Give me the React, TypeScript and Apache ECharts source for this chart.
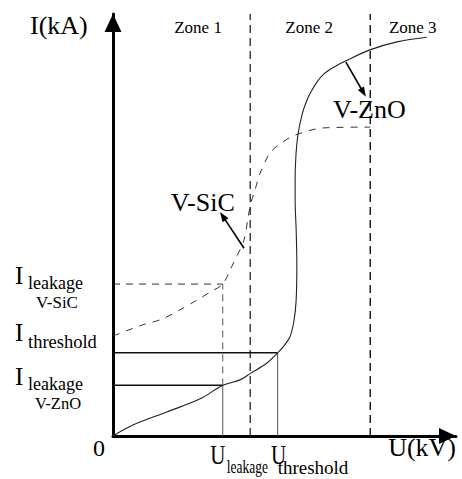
import { useEffect, useRef } from "react";
import * as echarts from "echarts";

// Axis extents (schematic units)
const uMax = 10;
const iMax = 10;

// Characteristic levels
const uLeakage = 3.2;
const uThreshold = 4.8;
const zoneBounds = [4.0, 7.5];
const iLeakageZnO = 1.2;
const iThreshold = 1.97;
const iLeakageSiC = 3.6;

// V-ZnO characteristic, [U, I]
const znoCurve: number[][] = [
  [0, 0], [0.58, 0.26], [1.57, 0.57], [2.54, 0.88], [3.2, 1.2], [3.7, 1.33],
  [4.02, 1.49], [4.49, 1.73], [4.8, 1.97], [4.96, 2.11], [5.16, 2.35],
  [5.28, 2.75], [5.34, 3.22], [5.36, 4.05], [5.34, 4.88], [5.31, 5.59],
  [5.31, 6.07], [5.33, 6.6], [5.39, 7.13], [5.51, 7.61], [5.63, 7.91],
  [5.77, 8.15], [5.95, 8.39], [6.15, 8.58], [6.44, 8.74], [6.79, 8.89],
  [7.49, 9.15], [8.28, 9.34], [9.15, 9.45],
];

// V-SiC characteristic, [U, I]
const sicCurve: number[][] = [
  [0, 2.37], [0.85, 2.63], [1.43, 2.77], [1.95, 2.99], [2.45, 3.22],
  [2.83, 3.41], [3.2, 3.6], [3.41, 3.93], [3.64, 4.31], [3.82, 4.64],
  [3.94, 5.19], [4.02, 5.52], [4.14, 5.83], [4.29, 6.23], [4.58, 6.71],
  [4.9, 6.94], [5.31, 7.13], [6.12, 7.3], [7.5, 7.32],
];

// Pointer arrows [tail, head]
const sicPointer: number[][] = [[3.82, 4.45], [3.2, 5.21]];
const znoPointer: number[][] = [[6.79, 8.86], [7.3, 8.14]];

const zoneNames = ["Zone 1", "Zone 2", "Zone 3"];
const zoneLabelU = [2.48, 5.72, 8.74];

const SERIF = "Liberation Serif";
const INK = "#000";

function segment(
  name: string,
  pts: number[][],
  color: string,
  width: number,
  type: "solid" | "dashed" | number[],
) {
  return {
    name,
    type: "line",
    data: pts,
    showSymbol: false,
    symbol: "none",
    silent: true,
    z: 3,
    lineStyle: { color, width, type },
  };
}

function txt(
  text: string,
  x: number,
  y: number,
  fontSize: number,
  align: "left" | "center" | "right" = "left",
  scaleX = 1,
) {
  return {
    type: "text",
    x,
    y,
    scaleX,
    silent: true,
    z: 10,
    style: {
      text,
      fontSize,
      fontFamily: SERIF,
      fill: INK,
      align,
      verticalAlign: "middle",
    },
  };
}

export default function App() {
  const ref = useRef<HTMLDivElement>(null);

  useEffect(() => {
    if (!ref.current) return;
    const chart = echarts.init(ref.current, undefined, { renderer: "svg" });

    const axisLine = (arrow: [number, number]) => ({
      show: true,
      symbol: ["none", "triangle"],
      symbolSize: arrow,
      symbolOffset: [0, -arrow[1] / 2],
      lineStyle: { color: INK, width: 3 },
    });

    const dash = [8, 5];

    chart.setOption({
      animation: false,
      backgroundColor: "#fff",
      grid: { left: 113, right: 6, top: 14, bottom: 43 },
      xAxis: {
        type: "value",
        min: 0,
        max: uMax,
        axisLine: axisLine([16, 17]),
        axisTick: { show: false },
        axisLabel: { show: false },
        splitLine: { show: false },
      },
      yAxis: {
        type: "value",
        min: 0,
        max: iMax,
        axisLine: axisLine([17, 18]),
        axisTick: { show: false },
        axisLabel: { show: false },
        splitLine: { show: false },
      },
      series: [
        // zone boundaries
        segment("zone-a", [[zoneBounds[0], 0], [zoneBounds[0], iMax]], "#111", 1.2, dash),
        segment("zone-b", [[zoneBounds[1], 0], [zoneBounds[1], iMax]], "#111", 1.4, dash),
        // leakage / threshold guides
        segment("i-leak-zno", [[0, iLeakageZnO], [uLeakage, iLeakageZnO]], "#111", 1.5, "solid"),
        segment("u-leak", [[uLeakage, 0], [uLeakage, iLeakageZnO]], "#555", 1, "solid"),
        segment("i-thr", [[0, iThreshold], [uThreshold, iThreshold]], "#111", 1.5, "solid"),
        segment("u-thr", [[uThreshold, 0], [uThreshold, iThreshold]], "#555", 1, "solid"),
        segment("i-leak-sic", [[0, iLeakageSiC], [uLeakage, iLeakageSiC]], "#333", 1, [7, 6]),
        segment("u-leak-sic", [[uLeakage, iLeakageZnO], [uLeakage, iLeakageSiC]], "#555", 1, [7, 5]),
        {
          name: "V-SiC",
          type: "line",
          data: sicCurve,
          smooth: 0.3,
          showSymbol: false,
          symbol: "none",
          silent: true,
          z: 4,
          lineStyle: { color: "#333", width: 1, type: [7, 7] },
          markLine: {
            silent: true,
            symbol: ["none", "triangle"],
            symbolSize: [7, 10],
            label: { show: false },
            lineStyle: { color: INK, width: 1.6, type: "solid" },
            data: [[{ coord: sicPointer[0] }, { coord: sicPointer[1] }]],
          },
        },
        {
          name: "V-ZnO",
          type: "line",
          data: znoCurve,
          smooth: 0.35,
          showSymbol: false,
          symbol: "none",
          silent: true,
          z: 4,
          lineStyle: { color: "#222", width: 1.1 },
          markLine: {
            silent: true,
            symbol: ["none", "triangle"],
            symbolSize: [7, 10],
            label: { show: false },
            lineStyle: { color: INK, width: 1.6, type: "solid" },
            data: [[{ coord: znoPointer[0] }, { coord: znoPointer[1] }]],
          },
        },
      ],
    });

    const px = (u: number, i: number) =>
      chart.convertToPixel({ gridIndex: 0 }, [u, i]) as number[];
    const yOf = (i: number) => px(0, i)[1];
    const xOf = (u: number) => px(u, 0)[0];
    const [x0, y0] = px(0, 0);

    const ySic = yOf(iLeakageSiC);
    const yThr = yOf(iThreshold);
    const yZno = yOf(iLeakageZnO);
    const xLeak = xOf(uLeakage);
    const xThr = xOf(uThreshold);
    const sicHead = px(sicPointer[1][0], sicPointer[1][1]);
    const znoHead = px(znoPointer[1][0], znoPointer[1][1]);
    const yTop = yOf(iMax);

    const graphic = [
      txt("I(kA)", 30, yTop + 11, 26),
      txt("U(kV)", xOf(uMax), y0 + 11, 26, "right"),
      txt("0", x0 - 14, y0 + 12, 24, "center"),
      ...zoneNames.map((z, k) => txt(z, xOf(zoneLabelU[k]), yTop + 13, 17, "center")),
      txt("V-SiC", sicHead[0] - 20, sicHead[1] - 14, 26, "center"),
      txt("V-ZnO", znoHead[0] + 6, znoHead[1] + 17, 26, "center"),
      // current levels on the I axis
      txt("I", 15, ySic - 9, 25),
      txt("leakage", 28, ySic - 1, 18),
      txt("V-SiC", 57, ySic + 18, 17, "center"),
      txt("I", 15, yThr - 20, 25),
      txt("threshold", 28, yThr - 11, 18.5),
      txt("I", 15, yZno - 9, 25),
      txt("leakage", 28, yZno - 1, 18),
      txt("V-ZnO", 58, yZno + 18, 16.5, "center"),
      // voltage levels on the U axis
      txt("U", xLeak - 5, y0 + 18, 28, "center", 0.75),
      txt("leakage", xLeak + 4, y0 + 31, 18, "left", 0.75),
      txt("U", xThr + 1, y0 + 18, 28, "center", 0.75),
      txt("threshold", xThr, y0 + 31, 19),
    ];

    chart.setOption({ graphic });

    return () => chart.dispose();
  }, []);

  return (
    <div
      ref={ref}
      style={{ position: "fixed", left: 0, top: 0, width: 462, height: 479, background: "#fff" }}
    />
  );
}
